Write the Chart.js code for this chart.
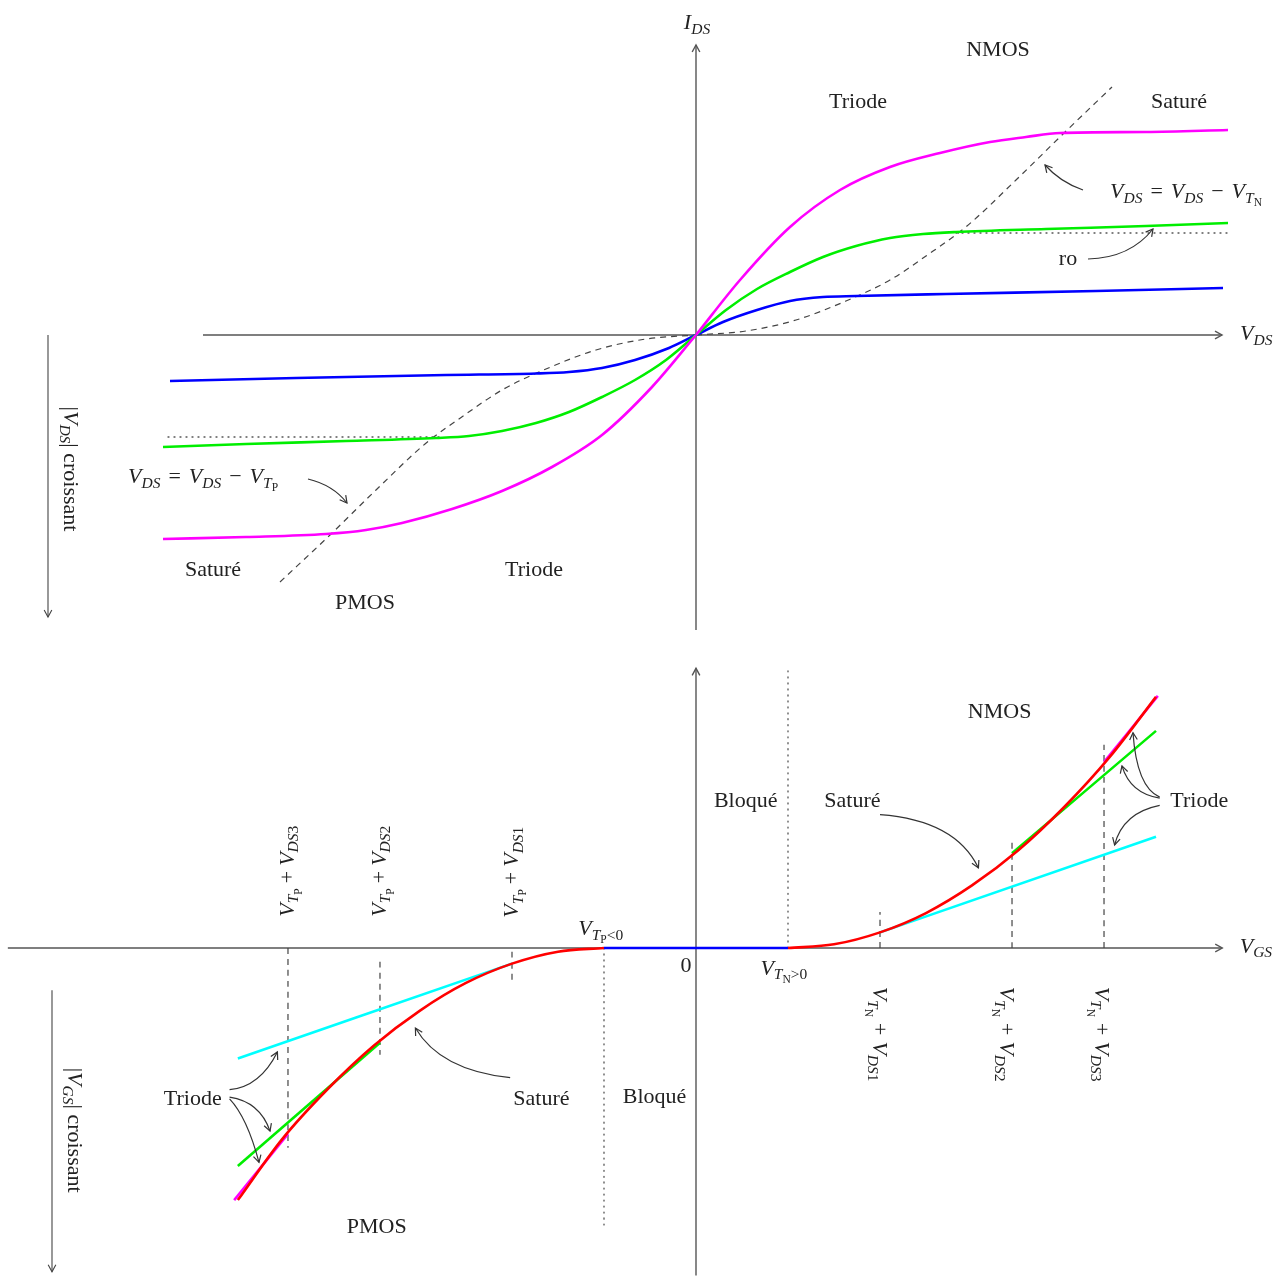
<!DOCTYPE html>
<html>
<head>
<meta charset="utf-8">
<title>Caractéristiques NMOS / PMOS</title>
<script src="https://cdn.jsdelivr.net/npm/chart.js@4.4.1/dist/chart.umd.min.js"></script>
<style>
  html, body { margin: 0; padding: 0; background: #ffffff; }
  #wrap { position: relative; width: 1276px; height: 1276px; }
  canvas { position: absolute; left: 0; }
  #cTop { top: 0; }
  #cBot { top: 638px; }
</style>
</head>
<body>
<div id="wrap">
  <canvas id="cTop" width="1276" height="638"></canvas>
  <canvas id="cBot" width="1276" height="638"></canvas>
</div>
<script>
// ---------- I_DS(V_DS) : output characteristics ----------
// NMOS branch (V_DS > 0), three gate drives
const nmosLowV  = [0, 0.27, 0.61, 0.94, 1.27, 1.6, 2.5, 4, 5.27];
const nmosLowI  = [0, 0.13, 0.25, 0.34, 0.38, 0.39, 0.41, 0.44, 0.47];
const nmosMidV  = [0, 0.3, 0.61, 0.94, 1.27, 1.6, 1.94, 2.27, 2.6, 3.5, 4.5, 5.32];
const nmosMidI  = [0, 0.25, 0.46, 0.63, 0.78, 0.89, 0.97, 1.01, 1.03, 1.06, 1.09, 1.12];
const nmosHighV = [0, 0.44, 0.94, 1.44, 1.94, 2.44, 2.94, 3.3, 3.64, 4.5, 5.32];
const nmosHighI = [0, 0.55, 1.08, 1.45, 1.68, 1.82, 1.93, 1.98, 2.02, 2.03, 2.05];
// PMOS branch (V_DS < 0)
const pmosLowV  = [-5.26, -4, -2.5, -1.6, -1.27, -0.94, -0.61, -0.27, 0];
const pmosLowI  = [-0.46, -0.43, -0.40, -0.385, -0.37, -0.33, -0.25, -0.13, 0];
const pmosMidV  = [-5.33, -4.5, -3.5, -2.6, -2.27, -1.94, -1.6, -1.27, -0.94, -0.61, -0.3, 0];
const pmosMidI  = [-1.12, -1.09, -1.06, -1.03, -1.01, -0.96, -0.88, -0.77, -0.62, -0.45, -0.25, 0];
const pmosHighV = [-5.33, -4.5, -3.7, -3.3, -2.94, -2.44, -1.94, -1.44, -0.94, -0.44, 0];
const pmosHighI = [-2.04, -2.02, -1.99, -1.95, -1.88, -1.74, -1.56, -1.32, -1.0, -0.52, 0];
// saturation boundary V_DS = V_GS - V_T
const edgeNV = [0, 0.5, 1, 1.5, 1.94, 2.3, 2.71, 3.2, 3.66, 4.16];
const edgeNI = [0, 0.04, 0.15, 0.34, 0.55, 0.79, 1.09, 1.55, 2.0, 2.48];
const edgePV = [-4.16, -3.66, -3.2, -2.71, -2.3, -1.94, -1.5, -1, -0.5, 0];
const edgePI = [-2.47, -2.0, -1.55, -1.09, -0.79, -0.55, -0.34, -0.15, -0.04, 0];
// flat reference (output resistance ro)
const roNV = [2.6, 5.31];
const roNI = [1.02, 1.02];
const roPV = [-5.28, -2.56];
const roPI = [-1.02, -1.02];

// ---------- I_DS(V_GS) : transfer characteristics ----------
const VTN = 1, VTP = -1;
// cut-off region
const offV = [VTP, 0, VTN];
const offI = [0, 0, 0];
// saturation (square law)
const satNV = [1, 1.5, 2, 2.5, 3, 3.5, 4, 4.5, 5];
const satNI = [0, 0.04, 0.17, 0.38, 0.68, 1.06, 1.53, 2.08, 2.73];
const satPV = [-4.98, -4.5, -4, -3.5, -3, -2.5, -2, -1.5, -1];
const satPI = [-2.74, -2.08, -1.53, -1.06, -0.68, -0.38, -0.17, -0.04, 0];
// triode lines for V_DS1 < V_DS2 < V_DS3
const tri1NV = [2, 5];        const tri1NI = [0.17, 1.21];
const tri2NV = [3.435, 5];    const tri2NI = [1.03, 2.36];
const tri3NV = [4.435, 5.02]; const tri3NI = [2.02, 2.74];
const tri1PV = [-4.98, -2];   const tri1PI = [-1.2, -0.17];
const tri2PV = [-4.98, -3.435]; const tri2PI = [-2.37, -1.03];
const tri3PV = [-5.02, -4.435]; const tri3PI = [-2.74, -2.02];
// V_T + V_DSk marker positions and extents
const markNV = [2, 3.435, 4.435];
const markNTop = [0.39, 1.17, 2.21];
const markPV = [-4.435, -3.435, -2];
const markPFrom = [0, -0.15, -0.04];
const markPTo = [-2.17, -1.16, -0.40];

// ---------- styling ----------
const FONT = '"Liberation Serif", "Times New Roman", "DejaVu Serif", serif';
const INK = '#222222';
const AXIS = '#555555';
const MAGENTA = '#ff00ff', GREEN = '#00ee00', BLUE = '#0000ff', CYAN = '#00ffff', RED = '#ff0000';

function pts(xs, ys) { return xs.map((x, i) => ({ x: x, y: ys[i] })); }

function curve(xs, ys, color, order, extra) {
  return Object.assign({
    data: pts(xs, ys), borderColor: color, borderWidth: 2.6, pointRadius: 0,
    cubicInterpolationMode: 'monotone', fill: false, order: order, borderCapStyle: 'butt'
  }, extra || {});
}
const dashed = { borderWidth: 1.2, borderDash: [6, 5] };
const dotted = { borderWidth: 1.3, borderDash: [1, 5], borderCapStyle: 'round' };

// ---------- rich text (math-like labels) ----------
const SIZES = [22, 15.5, 11.5];
const DROPS = [0, 4.5, 8];
const R  = (t, pad) => ({ t, it: false, l: 0, pad: pad || 0 });
const I  = (t) => ({ t, it: true, l: 0 });
const Si = (t) => ({ t, it: true, l: 1 });
const Sr = (t) => ({ t, it: false, l: 1 });
const SSr = (t) => ({ t, it: false, l: 2 });
function fontOf(p) { return (p.it ? 'italic ' : '') + SIZES[p.l] + 'px ' + FONT; }
function richWidth(ctx, parts) {
  let w = 0;
  for (const p of parts) { ctx.font = fontOf(p); w += ctx.measureText(p.t).width + 2 * (p.pad || 0); }
  return w;
}
function drawRich(ctx, x, y, parts, align, rot) {
  ctx.save();
  ctx.translate(x, y);
  if (rot) ctx.rotate(rot);
  ctx.fillStyle = INK;
  ctx.textBaseline = 'alphabetic';
  ctx.textAlign = 'left';
  const w = richWidth(ctx, parts);
  let cx = align === 'center' ? -w / 2 : (align === 'right' ? -w : 0);
  for (const p of parts) {
    ctx.font = fontOf(p);
    cx += p.pad || 0;
    ctx.fillText(p.t, cx, DROPS[p.l]);
    cx += ctx.measureText(p.t).width + (p.pad || 0);
  }
  ctx.restore();
}

function arrowHead(ctx, x, y, a) {
  const len = 8, spread = 0.5;
  ctx.beginPath();
  ctx.moveTo(x - len * Math.cos(a - spread), y - len * Math.sin(a - spread));
  ctx.lineTo(x, y);
  ctx.lineTo(x - len * Math.cos(a + spread), y - len * Math.sin(a + spread));
  ctx.stroke();
}

// helpers bound to a chart's scales
function mapper(chart) {
  const sx = chart.scales.x, sy = chart.scales.y;
  return { X: v => sx.getPixelForValue(v), Y: v => sy.getPixelForValue(v) };
}
function axisArrow(ctx, m, x0, y0, x1, y1) {
  const ax = m.X(x0), ay = m.Y(y0), bx = m.X(x1), by = m.Y(y1);
  ctx.beginPath(); ctx.moveTo(ax, ay); ctx.lineTo(bx, by); ctx.stroke();
  arrowHead(ctx, bx, by, Math.atan2(by - ay, bx - ax));
}
function bentArrow(ctx, m, a) {
  const sx = m.X(a[0]), sy = m.Y(a[1]), cx = m.X(a[2]), cy = m.Y(a[3]), ex = m.X(a[4]), ey = m.Y(a[5]);
  ctx.beginPath(); ctx.moveTo(sx, sy); ctx.quadraticCurveTo(cx, cy, ex, ey); ctx.stroke();
  arrowHead(ctx, ex, ey, Math.atan2(ey - cy, ex - cx));
}

function baseOptions(xmin, xmax, ymin, ymax) {
  return {
    responsive: false, animation: false, devicePixelRatio: 1,
    layout: { padding: 0 },
    plugins: { legend: { display: false }, tooltip: { enabled: false } },
    scales: {
      x: { type: 'linear', display: false, min: xmin, max: xmax },
      y: { type: 'linear', display: false, min: ymin, max: ymax }
    },
    elements: { point: { radius: 0 } }
  };
}

// ---------- output characteristics chart ----------
const topDecor = {
  id: 'topDecor',
  beforeDatasetsDraw(chart) {
    const ctx = chart.ctx, m = mapper(chart);
    ctx.save();
    ctx.strokeStyle = AXIS; ctx.lineWidth = 1.4;
    axisArrow(ctx, m, -4.93, 0, 5.26, 0);      // V_DS axis
    axisArrow(ctx, m, 0, -2.95, 0, 2.90);      // I_DS axis
    ctx.strokeStyle = '#444'; ctx.lineWidth = 1.1;
    axisArrow(ctx, m, -6.48, 0, -6.48, -2.82); // increasing |V_DS|
    ctx.restore();
  },
  afterDatasetsDraw(chart) {
    const ctx = chart.ctx, m = mapper(chart);
    ctx.save();
    drawRich(ctx, m.X(0.01), m.Y(3.06), [I('I'), Si('DS')], 'center');
    drawRich(ctx, m.X(5.44), m.Y(-0.05), [I('V'), Si('DS')], 'left');
    drawRich(ctx, m.X(3.02), m.Y(2.79), [R('NMOS')], 'center');
    drawRich(ctx, m.X(1.62), m.Y(2.27), [R('Triode')], 'center');
    drawRich(ctx, m.X(4.83), m.Y(2.27), [R('Saturé')], 'center');
    drawRich(ctx, m.X(4.14), m.Y(1.37),
      [I('V'), Si('DS'), R('=', 8), I('V'), Si('DS'), R('−', 8), I('V'), Si('T'), SSr('N')], 'left');
    drawRich(ctx, m.X(3.72), m.Y(0.70), [R('ro')], 'center');
    drawRich(ctx, m.X(-5.68), m.Y(-1.48),
      [I('V'), Si('DS'), R('=', 8), I('V'), Si('DS'), R('−', 8), I('V'), Si('T'), SSr('P')], 'left');
    drawRich(ctx, m.X(-4.83), m.Y(-2.41), [R('Saturé')], 'center');
    drawRich(ctx, m.X(-1.62), m.Y(-2.41), [R('Triode')], 'center');
    drawRich(ctx, m.X(-3.31), m.Y(-2.74), [R('PMOS')], 'center');
    drawRich(ctx, m.X(-6.32), m.Y(-1.34), [R('|'), I('V'), Si('DS'), R('| croissant')], 'center', Math.PI / 2);

    ctx.strokeStyle = '#333'; ctx.lineWidth = 1.2;
    bentArrow(ctx, m, [3.87, 1.45, 3.64, 1.53, 3.49, 1.70]);
    bentArrow(ctx, m, [3.92, 0.76, 4.34, 0.77, 4.57, 1.06]);
    bentArrow(ctx, m, [-3.88, -1.44, -3.63, -1.50, -3.49, -1.68]);
    ctx.restore();
  }
};

new Chart(document.getElementById('cTop'), {
  type: 'line',
  data: {
    datasets: [
      curve(nmosHighV, nmosHighI, MAGENTA, 1),
      curve(nmosMidV, nmosMidI, GREEN, 2),
      curve(nmosLowV, nmosLowI, BLUE, 3),
      curve(pmosHighV, pmosHighI, MAGENTA, 1),
      curve(pmosMidV, pmosMidI, GREEN, 2),
      curve(pmosLowV, pmosLowI, BLUE, 3),
      curve(edgeNV, edgeNI, '#444444', 5, dashed),
      curve(edgePV, edgePI, '#444444', 5, dashed),
      curve(roNV, roNI, '#555555', 6, dotted),
      curve(roPV, roPI, '#555555', 6, dotted)
    ]
  },
  options: baseOptions(-6.96, 5.80, -3.03, 3.35),
  plugins: [topDecor]
});

// ---------- transfer characteristics chart ----------
const botDecor = {
  id: 'botDecor',
  beforeDatasetsDraw(chart) {
    const ctx = chart.ctx, m = mapper(chart);
    ctx.save();
    ctx.strokeStyle = AXIS; ctx.lineWidth = 1.4;
    axisArrow(ctx, m, -7.48, 0, 5.72, 0);      // V_GS axis
    axisArrow(ctx, m, 0, -3.56, 0, 3.04);      // I_DS axis
    ctx.strokeStyle = '#444'; ctx.lineWidth = 1.1;
    axisArrow(ctx, m, -7.0, -0.46, -7.0, -3.52); // increasing |V_GS|
    ctx.restore();
  },
  afterDatasetsDraw(chart) {
    const ctx = chart.ctx, m = mapper(chart);
    ctx.save();
    drawRich(ctx, m.X(5.91), m.Y(-0.05), [I('V'), Si('GS')], 'left');
    drawRich(ctx, m.X(3.30), m.Y(2.50), [R('NMOS')], 'center');
    drawRich(ctx, m.X(0.54), m.Y(1.53), [R('Bloqué')], 'center');
    drawRich(ctx, m.X(1.70), m.Y(1.53), [R('Saturé')], 'center');
    drawRich(ctx, m.X(5.47), m.Y(1.53), [R('Triode')], 'center');
    drawRich(ctx, m.X(-5.47), m.Y(-1.71), [R('Triode')], 'center');
    drawRich(ctx, m.X(-1.68), m.Y(-1.71), [R('Saturé')], 'center');
    drawRich(ctx, m.X(-0.45), m.Y(-1.68), [R('Bloqué')], 'center');
    drawRich(ctx, m.X(-3.47), m.Y(-3.10), [R('PMOS')], 'center');
    drawRich(ctx, m.X(-1.28), m.Y(0.14), [I('V'), Si('T'), SSr('P'), Sr('<0')], 'left');
    drawRich(ctx, m.X(-0.11), m.Y(-0.26), [R('0')], 'center');
    drawRich(ctx, m.X(0.70), m.Y(-0.29), [I('V'), Si('T'), SSr('N'), Sr('>0')], 'left');

    const pLab = ['3', '2', '1'];
    const pPos = [[-4.37, 0.34], [-3.37, 0.34], [-1.93, 0.33]];
    pPos.forEach((p, i) => drawRich(ctx, m.X(p[0]), m.Y(p[1]),
      [I('V'), Si('T'), SSr('P'), R('+', 5), I('V'), Si('DS'), Sr(pLab[i])], 'left', -Math.PI / 2));
    const nLab = ['1', '2', '3'];
    const nPos = [[1.92, -0.42], [3.30, -0.42], [4.34, -0.42]];
    nPos.forEach((p, i) => drawRich(ctx, m.X(p[0]), m.Y(p[1]),
      [I('V'), Si('T'), SSr('N'), R('+', 6), I('V'), Si('DS'), Sr(nLab[i])], 'left', Math.PI / 2));
    drawRich(ctx, m.X(-6.83), m.Y(-1.98), [R('|'), I('V'), Si('GS'), R('| croissant')], 'center', Math.PI / 2);

    ctx.strokeStyle = '#333'; ctx.lineWidth = 1.2;
    bentArrow(ctx, m, [2.0, 1.45, 2.82, 1.39, 3.07, 0.87]);
    bentArrow(ctx, m, [5.04, 1.64, 4.79, 1.75, 4.75, 2.34]);
    bentArrow(ctx, m, [5.04, 1.63, 4.72, 1.68, 4.63, 1.98]);
    bentArrow(ctx, m, [5.04, 1.55, 4.64, 1.47, 4.55, 1.12]);
    bentArrow(ctx, m, [-5.07, -1.54, -4.74, -1.51, -4.55, -1.13]);
    bentArrow(ctx, m, [-5.07, -1.62, -4.74, -1.67, -4.63, -1.99]);
    bentArrow(ctx, m, [-5.07, -1.64, -4.88, -1.84, -4.75, -2.33]);
    bentArrow(ctx, m, [-2.02, -1.41, -2.78, -1.33, -3.05, -0.87]);
    ctx.restore();
  }
};

const guideSets = [];
markNV.forEach((v, i) => guideSets.push(curve([v, v], [0, markNTop[i]], '#444444', 8, dashed)));
markPV.forEach((v, i) => guideSets.push(curve([v, v], [markPFrom[i], markPTo[i]], '#444444', 8, dashed)));
guideSets.push(curve([VTN, VTN], [0, 3.02], '#555555', 9, dotted));
guideSets.push(curve([VTP, VTP], [0, -3.01], '#555555', 9, dotted));

new Chart(document.getElementById('cBot'), {
  type: 'line',
  data: {
    datasets: [
      curve(satNV, satNI, RED, 1),
      curve(satPV, satPI, RED, 1),
      curve(tri3NV, tri3NI, MAGENTA, 2),
      curve(tri3PV, tri3PI, MAGENTA, 2),
      curve(tri2NV, tri2NI, GREEN, 3),
      curve(tri2PV, tri2PI, GREEN, 3),
      curve(tri1NV, tri1NI, CYAN, 4),
      curve(tri1PV, tri1PI, CYAN, 4),
      curve(offV, offI, BLUE, 5)
    ].concat(guideSets)
  },
  options: baseOptions(-696 / 92, 580 / 92, -328 / 92, 310 / 92),
  plugins: [botDecor]
});
</script>
</body>
</html>
